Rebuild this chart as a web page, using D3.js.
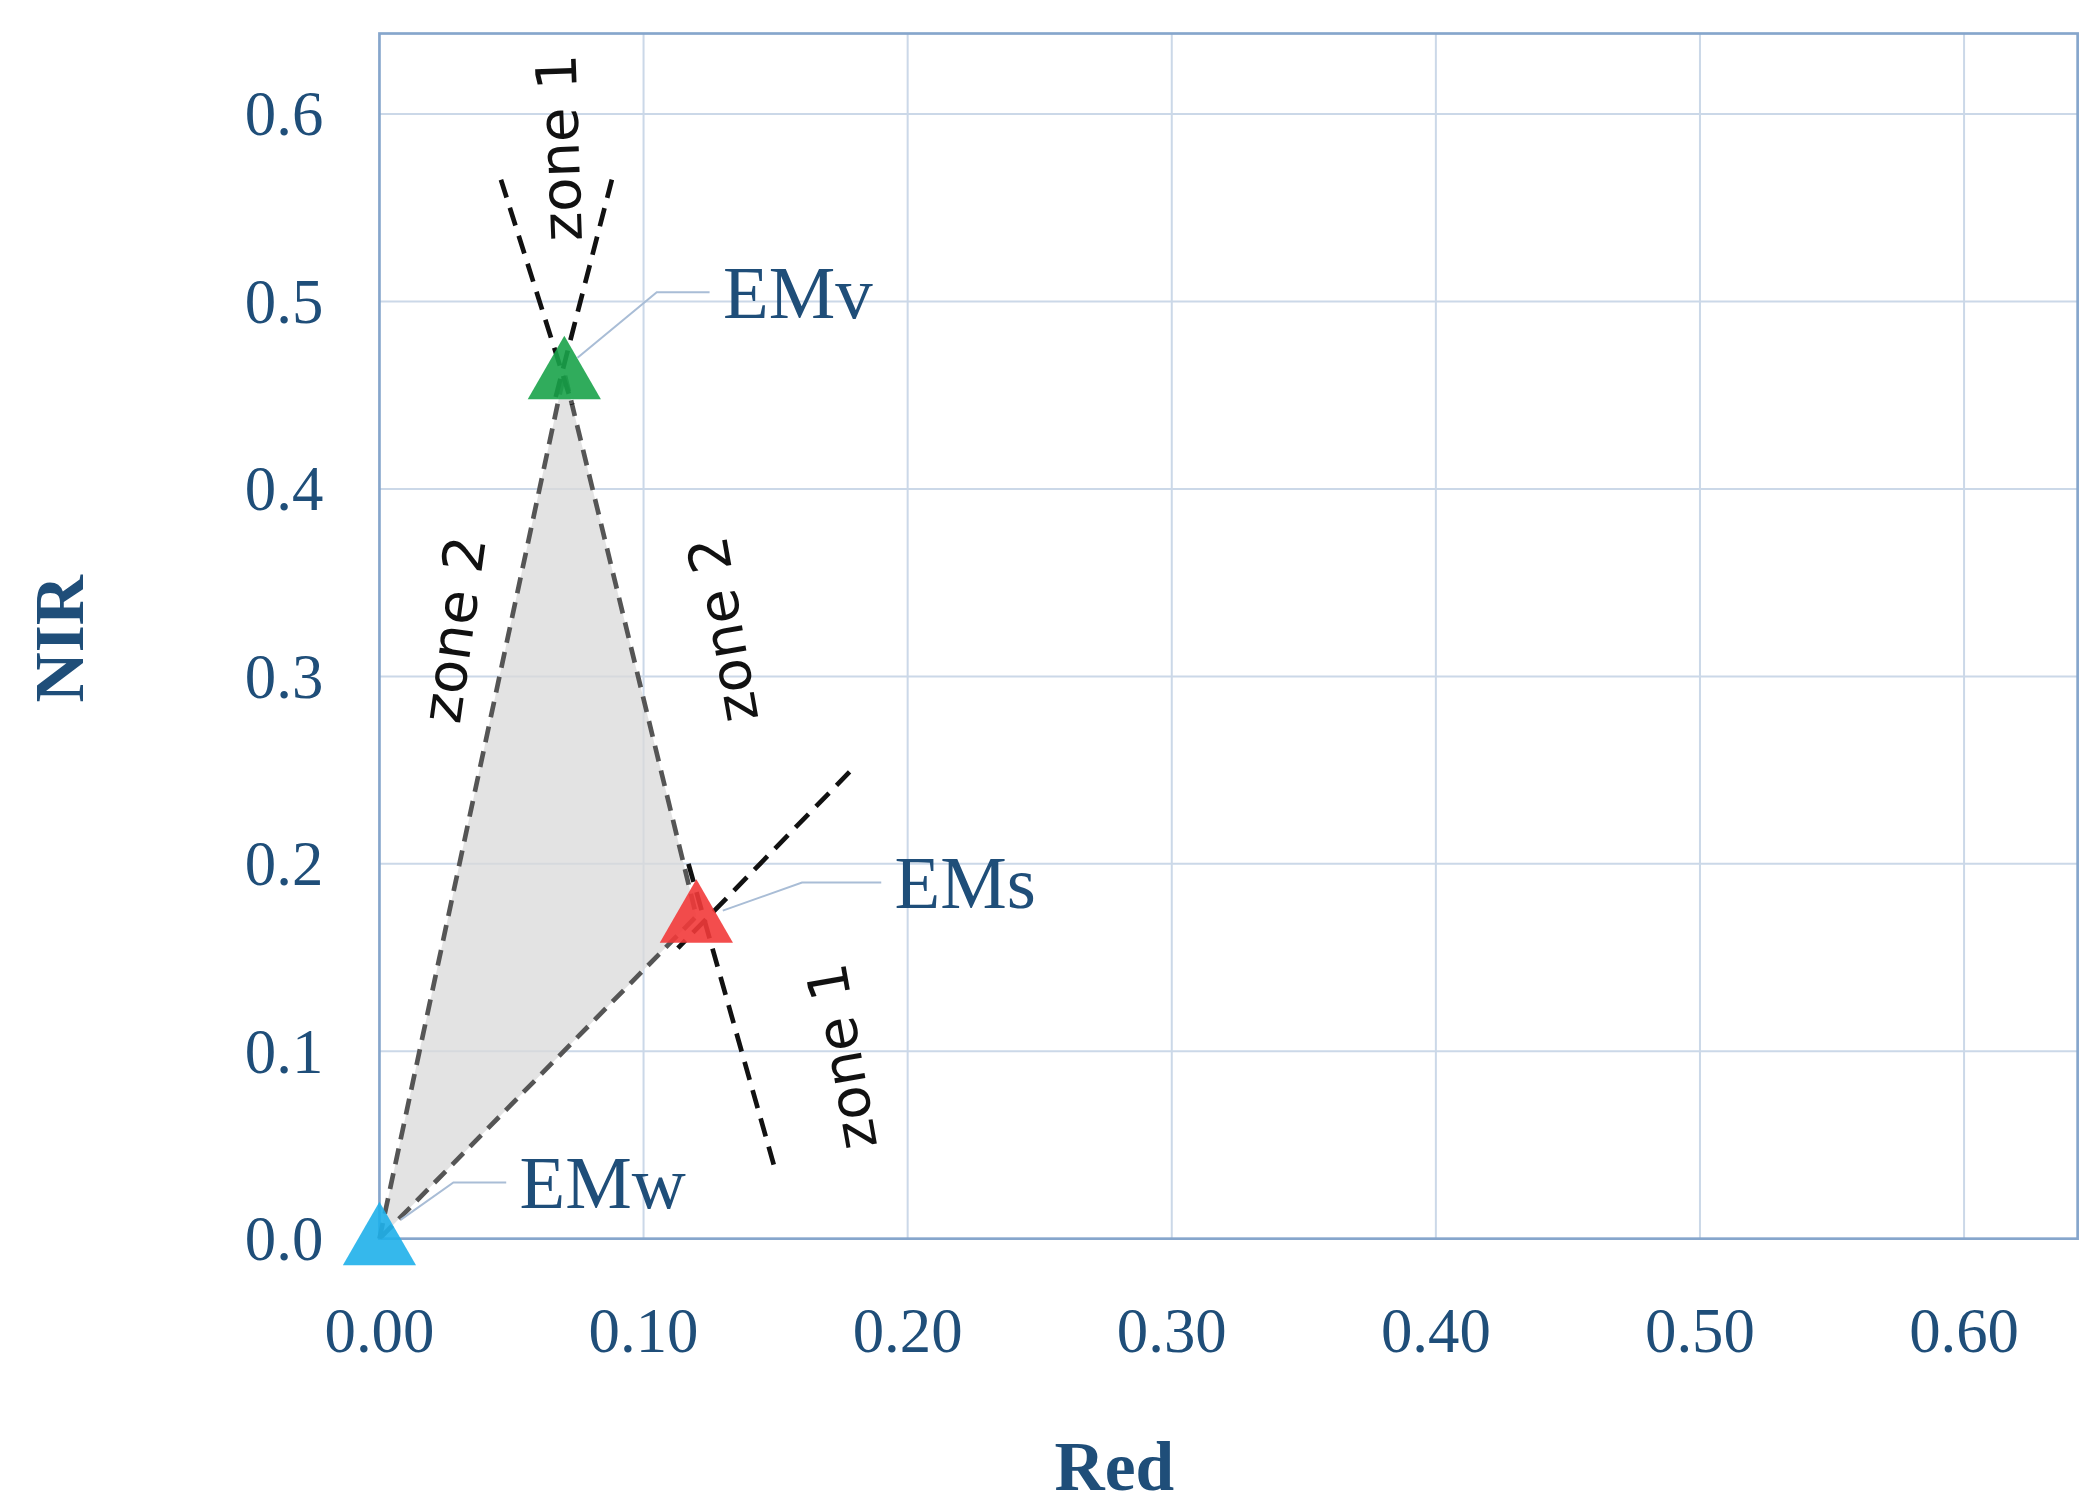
<!DOCTYPE html>
<html><head><meta charset="utf-8">
<script src="https://cdn.jsdelivr.net/npm/d3@7"></script>
<style>body{margin:0;background:#fff}</style>
</head><body>
<svg id="chart" width="2095" height="1506" viewBox="0 0 1568 1127"></svg>
<script>
// endmembers
const endmembers = [
  { name: "EMw", x: 0.0, y: 0.0, color: "#1fb0ea" },
  { name: "EMv", x: 0.07, y: 0.462, color: "#1aa34a" },
  { name: "EMs", x: 0.12, y: 0.172, color: "#f23a3a" }
];
// label anchor (data coords) and leader elbow
const labels = [
  { name: "EMv", at: [0.075, 0.47], elbow: [0.105, 0.505], tx: [0.125, 0.505] },
  { name: "EMs", at: [0.13, 0.175], elbow: [0.16, 0.19], tx: [0.19, 0.19] },
  { name: "EMw", at: [0.008, 0.01], elbow: [0.028, 0.03], tx: [0.048, 0.03] }
];
// zone boundary lines
const zoneLines = [
  [[0.046, 0.565], [0.073, 0.445]],
  [[0.088, 0.565], [0.066, 0.445]],
  [[0.178, 0.249], [0.113, 0.155]],
  [[0.117, 0.2], [0.15, 0.036]]
];
const zoneLabels = [
  { text: "zone 1", x: 0.068, y: 0.582, rot: -92 },
  { text: "zone 2", x: 0.028, y: 0.325, rot: -82 },
  { text: "zone 2", x: 0.13, y: 0.325, rot: -100 },
  { text: "zone 1", x: 0.175, y: 0.097, rot: -100 }
];
const xTicks = [0, 0.1, 0.2, 0.3, 0.4, 0.5, 0.6];
const yTicks = [0, 0.1, 0.2, 0.3, 0.4, 0.5, 0.6];

const svg = d3.select("#chart");
const m = { l: 284, r: 1555, t: 25, b: 927 };
const x = d3.scaleLinear().domain([0, 0.643]).range([m.l, m.r]);
const y = d3.scaleLinear().domain([0, 0.643]).range([m.b, m.t]);
const blue = "#1f4e79";
const serif = "'Liberation Serif', 'DejaVu Serif', serif";

// grid
svg.append("g").selectAll("line").data(xTicks.slice(1)).join("line")
  .attr("x1", d => x(d)).attr("x2", d => x(d)).attr("y1", m.t).attr("y2", m.b)
  .attr("stroke", "#cbd8e8").attr("stroke-width", 1.5);
svg.append("g").selectAll("line").data(yTicks.slice(1)).join("line")
  .attr("x1", m.l).attr("x2", m.r).attr("y1", d => y(d)).attr("y2", d => y(d))
  .attr("stroke", "#cbd8e8").attr("stroke-width", 1.5);
svg.append("rect").attr("x", m.l).attr("y", m.t).attr("width", m.r - m.l).attr("height", m.b - m.t)
  .attr("fill", "none").attr("stroke", "#86a6cc").attr("stroke-width", 2);

// tick labels
svg.append("g").selectAll("text").data(xTicks).join("text")
  .attr("x", d => x(d)).attr("y", 1012).attr("text-anchor", "middle")
  .attr("font-family", serif).attr("font-size", 47).attr("fill", blue)
  .text(d => d.toFixed(2));
svg.append("g").selectAll("text").data(yTicks).join("text")
  .attr("x", 242).attr("y", d => y(d) + 16).attr("text-anchor", "end")
  .attr("font-family", serif).attr("font-size", 47).attr("fill", blue)
  .text(d => d.toFixed(1));
svg.append("text").attr("x", 834).attr("y", 1115).attr("text-anchor", "middle")
  .attr("font-family", serif).attr("font-size", 52).attr("font-weight", "bold").attr("fill", blue).text("Red");
svg.append("text").attr("transform", "translate(62,478) rotate(-90)").attr("text-anchor", "middle")
  .attr("font-family", serif).attr("font-size", 52).attr("font-weight", "bold").attr("fill", blue).text("NIR");

// triangle
const line = d3.line().x(d => x(d.x)).y(d => y(d.y));
svg.append("path").attr("d", line(endmembers) + "Z")
  .attr("fill", "#d9d9d9").attr("fill-opacity", 0.75)
  .attr("stroke", "#555").attr("stroke-width", 3.5).attr("stroke-dasharray", "12,7");

// zone lines
svg.append("g").selectAll("path").data(zoneLines).join("path")
  .attr("d", d => d3.line().x(p => x(p[0])).y(p => y(p[1]))(d))
  .attr("stroke", "#111").attr("stroke-width", 3.5).attr("stroke-dasharray", "14,8").attr("fill", "none");

// markers
svg.append("g").selectAll("path").data(endmembers).join("path")
  .attr("transform", d => `translate(${x(d.x)},${y(d.y) + 4})`)
  .attr("d", d3.symbol(d3.symbolTriangle, 1300))
  .attr("fill", d => d.color).attr("opacity", 0.9);

// leaders + labels
svg.append("g").selectAll("path").data(labels).join("path")
  .attr("d", d => d3.line().x(p => x(p[0])).y(p => y(p[1]))([d.at, d.elbow, d.tx]))
  .attr("fill", "none").attr("stroke", "#a9bdd6").attr("stroke-width", 1.5);
svg.append("g").selectAll("text").data(labels).join("text")
  .attr("x", d => x(d.tx[0]) + 10).attr("y", d => y(d.tx[1]) + 19)
  .attr("font-family", serif).attr("font-size", 56).attr("fill", blue).text(d => d.name);

// zone labels
svg.append("g").selectAll("text").data(zoneLabels).join("text")
  .attr("transform", d => `translate(${x(d.x)},${y(d.y)}) rotate(${d.rot})`)
  .attr("text-anchor", "middle").attr("dy", "0.35em")
  .attr("font-family", "'DejaVu Sans', sans-serif").attr("font-size", 42).attr("fill", "#111")
  .text(d => d.text);
</script>
</body></html>
